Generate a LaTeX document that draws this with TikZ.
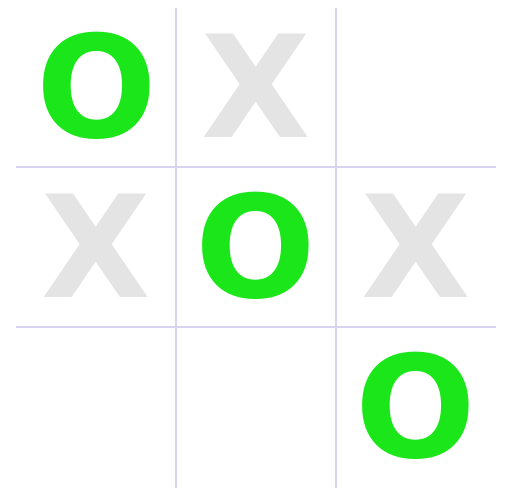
\documentclass[tikz,border=0pt]{standalone}
\usepackage{fontspec}
\newfontfamily\boardfont{DejaVu Sans}
\definecolor{gridc}{RGB}{216,212,240}
\definecolor{ogreen}{RGB}{26,230,26}
\definecolor{xgray}{RGB}{228,228,228}
\begin{document}
\begin{tikzpicture}[x=1pt,y=-1pt,
  gridline/.style={draw=gridc,line width=2pt},
  omark/.style={text=ogreen,inner sep=0pt,font=\boardfont\bfseries\fontsize{142}{142}\selectfont},
  xmark/.style={text=xgray,inner sep=0pt,font=\boardfont\bfseries\fontsize{142}{142}\selectfont}]
\useasboundingbox (0,0) rectangle (512,500);
\draw[gridline] (176,8) -- (176,488);
\draw[gridline] (336,8) -- (336,488);
\draw[gridline] (16,167) -- (496,167);
\draw[gridline] (16,327) -- (496,327);
\node[omark] (c11) at (96.5,85.5) {O};
\node[xmark] (c12) at (256,85.5) {X};
\node[xmark] (c21) at (96,245.5) {X};
\node[omark] (c22) at (256,245.5) {O};
\node[xmark] (c23) at (416,245.5) {X};
\node[omark] (c33) at (416,405.5) {O};
\end{tikzpicture}
\end{document}
